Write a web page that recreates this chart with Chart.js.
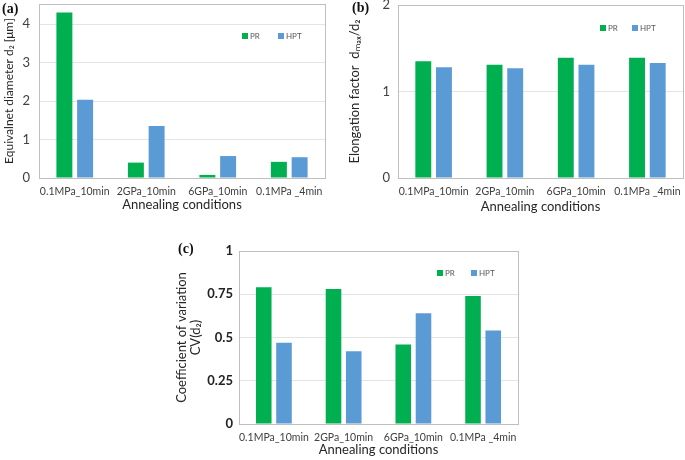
<!DOCTYPE html>
<html>
<head>
<meta charset="utf-8">
<script src="https://cdn.jsdelivr.net/npm/chart.js@4.4.0/dist/chart.umd.min.js"></script>
<style>
  body { margin: 0; background: #fff; }
  #wrap { position: relative; width: 685px; height: 460px; }
  .panel { position: absolute; }
  .tag { position: absolute; font: bold 14px "Liberation Serif", serif; color: #111; }
</style>
</head>
<body>
<div id="wrap">
  <div class="panel" style="left:0;top:0;width:340px;height:220px"><canvas id="chartA"></canvas></div>
  <div class="panel" style="left:340px;top:0;width:345px;height:220px"><canvas id="chartB"></canvas></div>
  <div class="panel" style="left:170px;top:235px;width:350px;height:225px"><canvas id="chartC"></canvas></div>
  <div class="tag" style="left:2px;top:1px">(a)</div>
  <div class="tag" style="left:352px;top:0px">(b)</div>
  <div class="tag" style="left:178px;top:241px">(c)</div>
</div>
<script>
// dữ liệu
var dieuKien = ['0.1MPa_10min', '2GPa_10min', '6GPa_10min', '0.1MPa _4min'];
var tenNhom = ['PR', 'HPT'];

var duongKinhPR = [4.3, 0.4, 0.08, 0.42];
var duongKinhHPT = [2.03, 1.35, 0.57, 0.54];
var tickA = [0, 1, 2, 3, 4];

var keoDaiPR = [1.35, 1.31, 1.39, 1.39];
var keoDaiHPT = [1.28, 1.27, 1.31, 1.33];
var tickB = [0, 1, 2];

var heSoPR = [0.79, 0.78, 0.46, 0.74];
var heSoHPT = [0.47, 0.42, 0.64, 0.54];
var tickC = [0, 0.25, 0.5, 0.75, 1];

var mauPR = '#00b050';
var mauHPT = '#5b9bd5';
var fontChu = 'Lato, "Open Sans", sans-serif';

// viền khung vẽ + chú thích đặt bên trong
var khungPlugin = {
  id: 'khung',
  beforeDatasetsDraw: function (chart) {
    var a = chart.chartArea, ctx = chart.ctx;
    ctx.save();
    ctx.strokeStyle = '#bfbfbf';
    ctx.lineWidth = 1;
    ctx.strokeRect(Math.round(a.left) + 0.5, Math.round(a.top) + 0.5,
      Math.round(a.right - a.left), Math.round(a.bottom - a.top));
    ctx.restore();
  },
  afterDraw: function (chart, args, opts) {
    var ctx = chart.ctx;
    ctx.save();
    ctx.font = '8px ' + fontChu;
    ctx.textBaseline = 'middle';
    chart.data.datasets.forEach(function (ds, i) {
      var x = opts.x[i], y = opts.y;
      ctx.fillStyle = ds.backgroundColor;
      ctx.fillRect(x - 3, y - 3, 6, 6);
      ctx.fillStyle = '#595959';
      ctx.fillText(ds.label, x + 5, y + 0.5);
    });
    ctx.restore();
  }
};

function veBieuDo(id, pr, hpt, ticks, max, tieuDeY, cfg) {
  var ctx = document.getElementById(id).getContext('2d');
  return new Chart(ctx, {
    type: 'bar',
    data: {
      labels: dieuKien,
      datasets: [
        { label: tenNhom[0], data: pr, backgroundColor: mauPR },
        { label: tenNhom[1], data: hpt, backgroundColor: mauHPT }
      ]
    },
    plugins: [khungPlugin],
    options: {
      responsive: true,
      maintainAspectRatio: false,
      animation: false,
      datasets: { bar: { categoryPercentage: 0.58, barPercentage: 0.77 } },
      layout: { padding: { top: cfg.top, right: cfg.right, left: 0, bottom: 0 } },
      plugins: {
        legend: { display: false },
        tooltip: { enabled: false },
        khung: { x: cfg.legendX, y: cfg.legendY }
      },
      scales: {
        x: {
          grid: { display: false, drawTicks: false },
          border: { display: false },
          ticks: { color: '#404040', font: { family: fontChu, size: 10.5 }, padding: cfg.tickPadX, maxRotation: 0, autoSkip: false },
          title: {
            display: true, text: 'Annealing conditions', color: '#262626',
            font: { family: fontChu, size: 13 }, padding: { top: 0, bottom: cfg.titlePadX }
          },
          afterFit: function (s) {
            s.height = cfg.xHeight;
            s.paddingLeft = 0; s.paddingRight = 0;
          }
        },
        y: {
          min: 0, max: max,
          grid: { color: '#e4e4e4', drawTicks: false },
          border: { display: false },
          ticks: {
            color: cfg.tickColorY, padding: cfg.tickPadY,
            font: { family: fontChu, size: 13, weight: cfg.tickWeight },
            callback: function (v) { return String(v); }
          },
          afterBuildTicks: function (s) { s.ticks = ticks.map(function (v) { return { value: v }; }); },
          title: {
            display: true, text: tieuDeY, color: '#262626',
            font: { family: fontChu, size: cfg.titleSizeY, lineHeight: 1.05 }, padding: { top: cfg.titlePadY, bottom: 0 }
          },
          afterFit: function (s) {
            s.width = cfg.yWidth;
            s.paddingTop = 0; s.paddingBottom = 0;
          }
        }
      }
    }
  });
}

veBieuDo('chartA', duongKinhPR, duongKinhHPT, tickA, 4.52, 'Equivalnet diameter d\u2082 [\u03bcm]', {
  top: 4, right: 15, yWidth: 39, xHeight: 42, tickPadX: 7, titlePadX: 7, tickPadY: 9, titlePadY: 3,
  titleSizeY: 12, tickColorY: '#404040', tickWeight: 'normal', legendX: [245, 281], legendY: 36
});

veBieuDo('chartB', keoDaiPR, keoDaiHPT, tickB, 2, 'Elongation factor  d\u2098\u2090\u2093/d\u2082', {
  top: 5, right: 2, yWidth: 58, xHeight: 42, tickPadX: 7, titlePadX: 5, tickPadY: 8, titlePadY: 8,
  titleSizeY: 13, tickColorY: '#404040', tickWeight: 'normal', legendX: [263, 295], legendY: 28
});

veBieuDo('chartC', heSoPR, heSoHPT, tickC, 1, ['Coefficient of variation', 'CV(d\u2082)'], {
  top: 16, right: 2, yWidth: 69, xHeight: 36, tickPadX: 7, titlePadX: 2, tickPadY: 6, titlePadY: 5,
  titleSizeY: 13, tickColorY: '#222', tickWeight: 'bold', legendX: [270, 304], legendY: 38
});
</script>
</body>
</html>
